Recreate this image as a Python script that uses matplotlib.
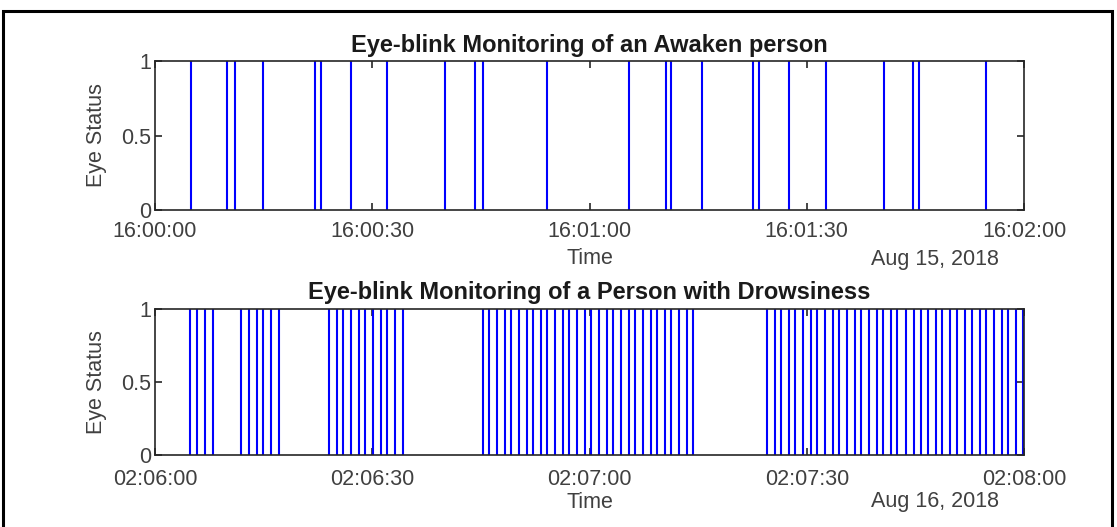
"""
Eye-blink monitoring: awake vs drowsy person, blink events as vertical lines.
"""

from datetime import datetime, timedelta
import matplotlib
matplotlib.use("Agg")
import matplotlib.pyplot as plt
import matplotlib.dates as mdates
from matplotlib.patches import Rectangle

# ── data (seconds after the start of each 2-minute window) ────────────────────
AWAKE_START = datetime(2018, 8, 15, 16, 0, 0)
AWAKE_BLINKS = [5.0, 9.9, 11.0, 14.9, 22.1, 22.9, 27.1, 32.1, 40.1, 44.2,
                45.3, 54.2, 65.5, 70.5, 71.3, 75.5, 82.6, 83.4, 87.6, 92.6,
                100.6, 104.7, 105.5, 114.7]

DROWSY_START = datetime(2018, 8, 16, 2, 6, 0)
DROWSY_BLINKS = [
    # burst 1
    4.9, 5.8, 6.9, 8.0,
    # burst 2
    11.9, 13.0, 14.1, 14.9, 16.0, 17.1,
    # burst 3
    24.0, 25.1, 26.0, 27.1, 28.2, 29.0, 30.1, 31.2, 32.0, 33.1, 34.2,
    # burst 4
    45.3, 46.1, 47.2, 48.3, 49.2, 50.3, 51.4, 52.2, 53.3, 54.1, 55.2, 56.3,
    57.2, 58.3, 59.4, 60.2, 61.3, 62.4, 63.2, 64.4, 65.5, 66.3, 67.4, 68.5,
    69.3, 70.4, 71.3, 72.4, 73.5, 74.3,
    # burst 5
    84.5, 85.6, 86.4, 87.5, 88.4, 89.5, 90.6, 91.4, 92.5, 93.6, 94.5, 95.6,
    96.7, 97.5, 98.6, 99.7, 100.5, 101.6, 102.5, 103.7, 104.8, 105.8, 106.7,
    107.8, 108.7, 109.8, 110.8, 111.8, 112.8, 113.9, 114.8, 115.9, 116.9,
    117.8, 118.9, 119.9,
]

YTICKS = [0, 0.5, 1]
YTICKLABELS = ["0", "0.5", "1"]

TITLES = ["Eye-blink Monitoring of an Awaken person",
          "Eye-blink Monitoring of a Person with Drowsiness"]
DATE_LABELS = ["Aug 15, 2018", "Aug 16, 2018"]

# ── style ─────────────────────────────────────────────────────────────────────
W, H = 1117, 527
BLUE = "#0000ff"
AX_COLOR = "#262626"
TXT_COLOR = "#404040"
FONT = "Liberation Sans"
LABEL_FS = 15.5
TITLE_FS = 17

plt.rcParams["font.family"] = FONT


def px(x, y):
    # pixel (from top-left) -> figure fraction
    return x / W, 1 - y / H


def panel(fig, rect, start, blinks, title, date_label, title_y, label_y, xpad):
    ax = fig.add_axes(rect)
    times = [start + timedelta(seconds=s) for s in blinks]
    ax.vlines(times, 0, 1, color=BLUE, linewidth=1.5, zorder=2)

    ax.set_xlim(start, start + timedelta(seconds=120))
    ax.set_ylim(0, 1)
    ax.xaxis.set_major_locator(mdates.SecondLocator(bysecond=[0, 30]))
    ax.xaxis.set_major_formatter(mdates.DateFormatter("%H:%M:%S"))
    ax.set_yticks(YTICKS)
    ax.set_yticklabels(YTICKLABELS)

    ax.tick_params(direction="in", length=5, width=1.2, color=AX_COLOR,
                   labelcolor=TXT_COLOR, labelsize=LABEL_FS,
                   top=True, right=True)
    ax.tick_params(axis="x", pad=xpad)
    ax.tick_params(axis="y", pad=3)
    for sp in ax.spines.values():
        sp.set_color(AX_COLOR)
        sp.set_linewidth(1.2)

    cx = rect[0] + rect[2] / 2
    fig.text(cx, 1 - title_y / H, title, ha="center", va="center",
             fontsize=TITLE_FS, fontweight="bold", color="#1a1a1a")
    fig.text(cx, 1 - label_y / H, "Time", ha="center", va="center",
             fontsize=LABEL_FS, color=TXT_COLOR)
    fig.text(*px(935, label_y), date_label, ha="center", va="center",
             fontsize=LABEL_FS, color=TXT_COLOR)
    mid = rect[1] + rect[3] / 2
    fig.text(97 / W, mid, "Eye Status", rotation=90, ha="center",
             va="center", fontsize=LABEL_FS, color=TXT_COLOR)
    return ax


fig = plt.figure(figsize=(W / 100, H / 100), dpi=100)
fig.patch.set_facecolor("white")

left = 155 / W
width = (1024 - 155) / W

panel(fig, [left, 1 - 210 / H, width, 149 / H], AWAKE_START, AWAKE_BLINKS,
      TITLES[0], DATE_LABELS[0], title_y=45, label_y=259, xpad=8)
panel(fig, [left, 1 - 455 / H, width, 146 / H], DROWSY_START, DROWSY_BLINKS,
      TITLES[1], DATE_LABELS[1], title_y=292, label_y=502, xpad=10)

# outer frame of the figure box
fig.patches.append(Rectangle((3 / W, -0.05), (1112 - 3) / W, 1.05 - 11 / H,
                             transform=fig.transFigure, fill=False,
                             edgecolor="black", linewidth=2.2))

fig.savefig("out.png", dpi=100)
